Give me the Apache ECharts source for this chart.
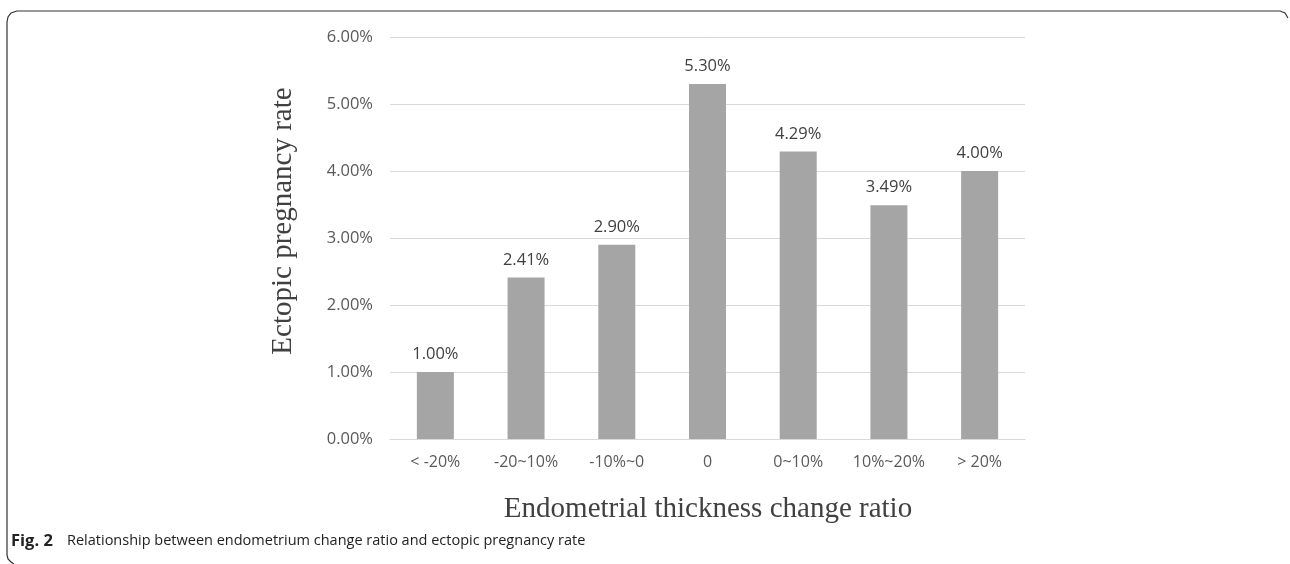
<!DOCTYPE html>
<html><head><meta charset="utf-8">
<script src="https://cdn.jsdelivr.net/npm/echarts@6/dist/echarts.min.js"></script>
<style>html,body{margin:0;padding:0;background:#fff}#c{width:1290px;height:564px}</style>
</head><body><div id="c"></div>
<script>
const categories = ['< -20%', '-20~10%', '-10%~0', '0', '0~10%', '10%~20%', '> 20%'];
const rates = [1.00, 2.41, 2.90, 5.30, 4.29, 3.49, 4.00];
const yTicks = [0, 1, 2, 3, 4, 5, 6];
const xTitle = 'Endometrial thickness change ratio';
const yTitle = 'Ectopic pregnancy rate';

const chart = echarts.init(document.getElementById('c'), null, {renderer: 'canvas'});
chart.setOption({
  animation: false,
  backgroundColor: '#fff',
  grid: {left: 390, right: 265, top: 37, bottom: 125},
  xAxis: {
    type: 'category', data: categories,
    axisLine: {lineStyle: {color: '#d9d9d9', width: 1}},
    axisTick: {show: false},
    axisLabel: {color: '#595959', fontSize: 16, fontFamily: 'Open Sans', margin: 15, interval: 0}
  },
  yAxis: {
    type: 'value', min: yTicks[0], max: yTicks[yTicks.length - 1], interval: 1,
    axisLine: {show: false}, axisTick: {show: false},
    splitLine: {lineStyle: {color: '#d9d9d9', width: 1}},
    axisLabel: {color: '#595959', fontSize: 16.5, fontFamily: 'Open Sans', margin: 17,
      formatter: v => v.toFixed(2) + '%'}
  },
  series: [{
    type: 'bar', data: rates, barWidth: 37,
    itemStyle: {color: '#a5a5a5'},
    label: {show: true, position: 'top', distance: 9, color: '#404040', fontSize: 16.5,
      fontFamily: 'Open Sans', formatter: p => p.value.toFixed(2) + '%'}
  }],
  graphic: [
    {type: 'polyline', silent: true,
     shape: {points: [[1288, 18], [1285, 13], [1280, 11], [17, 11], [11, 13], [8, 17], [7, 22], [7, 555], [8, 559], [11, 562], [14, 564]]},
     style: {stroke: '#333', lineWidth: 1.2, fill: null}},
    {type: 'text', x: 708, y: 509,
     style: {text: xTitle, font: '29px "Liberation Serif"', fill: '#404040', align: 'center', verticalAlign: 'middle'}},
    {type: 'text', x: 283, y: 221, rotation: Math.PI / 2,
     style: {text: yTitle, font: '29px "Liberation Serif"', fill: '#404040', align: 'center', verticalAlign: 'middle'}},
    {type: 'text', x: 11, y: 541,
     style: {text: 'Fig. 2', font: 'bold 16.5px "Open Sans"', fill: '#222', verticalAlign: 'middle'}},
    {type: 'text', x: 67, y: 541,
     style: {text: 'Relationship between endometrium change ratio and ectopic pregnancy rate', font: '14.5px "Open Sans"', fill: '#222', verticalAlign: 'middle'}}
  ]
});
</script></body></html>
